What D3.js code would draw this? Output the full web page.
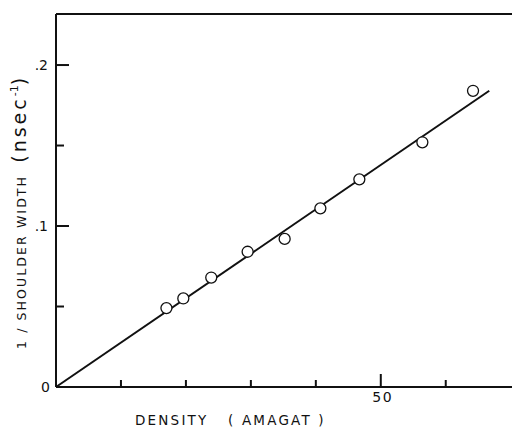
<!DOCTYPE html>
<html>
<head>
<meta charset="utf-8">
<script src="https://cdn.jsdelivr.net/npm/d3@7"></script>
<style>
  body { margin: 0; background: #fff; }
  text { font-family: "DejaVu Sans", sans-serif; fill: #111; }
</style>
</head>
<body>
<svg id="chart" width="512" height="428"></svg>
<script>
// measured points (density in amagat, 1/shoulder width in nsec^-1)
const density = [17.0, 19.6, 23.9, 29.5, 35.2, 40.7, 46.7, 56.4, 64.2];
const invWidth = [0.049, 0.055, 0.068, 0.084, 0.092, 0.111, 0.129, 0.152, 0.184];
// fitted straight line end points
const fitX = [0, 66.7];
const fitY = [0, 0.184];
const xTicks = [10, 20, 30, 40, 50, 60];
const xTickLabels = {50: "50"};
const yTicks = [0.05, 0.1, 0.15, 0.2];
const yTickLabels = {0.1: ".1", 0.2: ".2"};

const margin = {top: 14, left: 56, bottom: 41, right: 0};
const width = 512, height = 428;

const svg = d3.select("#chart");

const x = d3.scaleLinear().domain([0, 70.2]).range([margin.left, width - margin.right]);
const y = d3.scaleLinear().domain([0, 0.2317]).range([height - margin.bottom, margin.top]);

const frame = svg.append("g").attr("stroke", "#111").attr("stroke-width", 2);
// left, bottom, top spines
frame.append("line").attr("x1", x(0)).attr("x2", x(0)).attr("y1", y(0)).attr("y2", margin.top);
frame.append("line").attr("x1", x(0)).attr("x2", width).attr("y1", y(0)).attr("y2", y(0));
frame.append("line").attr("x1", x(0)).attr("x2", width).attr("y1", margin.top).attr("y2", margin.top);

// inward ticks
frame.selectAll("line.xt").data(xTicks).enter().append("line")
  .attr("class", "xt")
  .attr("x1", (d) => x(d)).attr("x2", (d) => x(d))
  .attr("y1", y(0)).attr("y2", (d) => y(0) - (xTickLabels[d] ? 13 : 7));
frame.selectAll("line.yt").data(yTicks).enter().append("line")
  .attr("class", "yt")
  .attr("y1", (d) => y(d)).attr("y2", (d) => y(d))
  .attr("x1", x(0)).attr("x2", (d) => x(0) + (yTickLabels[d] ? 13 : 8));

svg.selectAll("text.xl").data(xTicks.filter((d) => xTickLabels[d])).enter().append("text")
  .attr("class", "xl")
  .attr("x", (d) => x(d) + 2).attr("y", y(0) + 15)
  .attr("text-anchor", "middle").attr("font-size", 14).attr("letter-spacing", 1.5)
  .text((d) => xTickLabels[d]);
svg.selectAll("text.yl").data(yTicks.filter((d) => yTickLabels[d])).enter().append("text")
  .attr("class", "yl")
  .attr("x", x(0) - 8).attr("y", (d) => y(d) + 5)
  .attr("text-anchor", "end").attr("font-size", 14)
  .text((d) => yTickLabels[d]);
svg.append("text")
  .attr("x", x(0) - 6).attr("y", y(0) + 5)
  .attr("text-anchor", "end").attr("font-size", 14)
  .text("0");

// fitted line
const line = d3.line().x((d) => x(d[0])).y((d) => y(d[1]));
svg.append("path")
  .datum(d3.zip(fitX, fitY))
  .attr("d", line)
  .attr("fill", "none").attr("stroke", "#111").attr("stroke-width", 2);

// data points
svg.selectAll("circle.pt").data(d3.zip(density, invWidth)).enter().append("circle")
  .attr("class", "pt")
  .attr("cx", (d) => x(d[0])).attr("cy", (d) => y(d[1]))
  .attr("r", 5.5)
  .attr("fill", "#fff").attr("stroke", "#111").attr("stroke-width", 1.3);

// axis titles
svg.append("text")
  .attr("x", 135).attr("y", 425)
  .attr("font-size", 13.5).attr("letter-spacing", 2.2)
  .attr("xml:space", "preserve")
  .text("DENSITY   ( AMAGAT )");

const yTitle = svg.append("text")
  .attr("transform", "translate(26,349) rotate(-90)")
  .attr("font-size", 12.5).attr("letter-spacing", 2.1)
  .attr("xml:space", "preserve");
yTitle.append("tspan").text("1 / SHOULDER WIDTH  ");
yTitle.append("tspan").attr("font-size", 19).attr("letter-spacing", 3).text("(nsec");
yTitle.append("tspan").attr("font-size", 11).attr("letter-spacing", 0).attr("dy", -8).text("-1");
yTitle.append("tspan").attr("font-size", 19).attr("dy", 8).text(")");
</script>
</body>
</html>
